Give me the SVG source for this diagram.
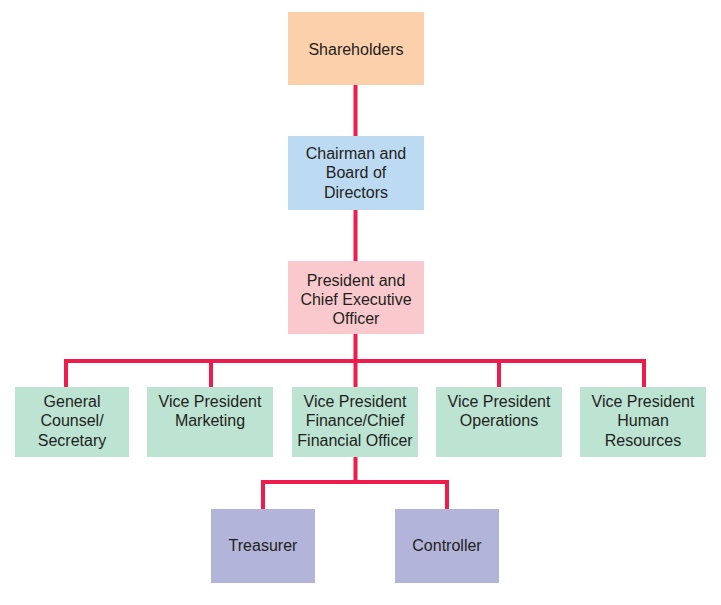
<svg xmlns="http://www.w3.org/2000/svg" width="721" height="605" viewBox="0 0 721 605">
<style>
text{font-family:"Liberation Sans",Arial,sans-serif;font-size:16px;fill:#231F20;text-anchor:middle}
.c{fill:none;stroke:#EE1B4C;stroke-width:4;stroke-linejoin:miter}
.g{fill:#BDE3D3}
.p{fill:#B2B4DA}
</style>
<rect width="721" height="605" fill="#FFFFFF"/>
<g id="connectors">
<path class="c" d="M355.5 85V136M355.5 210V261M355.5 334V387"/>
<path class="c" d="M66 387V361H644V387M211 361V387M499 361V387"/>
<path class="c" d="M355.5 457V482M263 509V482H447V509"/>
</g>
<g id="shareholders">
<rect x="288" y="12" width="136" height="73" fill="#FDD0AC"/>
<text x="356" y="54.5">Shareholders</text>
</g>
<g id="chairman">
<rect x="288" y="136" width="136" height="74" fill="#BCDAF2"/>
<text x="356" y="158.5">Chairman and</text>
<text x="356" y="178">Board of</text>
<text x="356" y="197.5">Directors</text>
</g>
<g id="president">
<rect x="288" y="261" width="136" height="73" fill="#F9C9CD"/>
<text x="356" y="285.5">President and</text>
<text x="356" y="304.8">Chief Executive</text>
<text x="356" y="324">Officer</text>
</g>
<g id="general-counsel">
<rect class="g" x="15" y="387" width="114" height="70"/>
<text x="72" y="406.5">General</text>
<text x="72" y="426.3">Counsel/</text>
<text x="72" y="446">Secretary</text>
</g>
<g id="vp-marketing">
<rect class="g" x="147" y="387" width="126" height="70"/>
<text x="210" y="406.5">Vice President</text>
<text x="210" y="426.3">Marketing</text>
</g>
<g id="vp-finance">
<rect class="g" x="292" y="387" width="126" height="70"/>
<text x="355" y="406.5">Vice President</text>
<text x="355" y="426.3">Finance/Chief</text>
<text x="355" y="446">Financial Officer</text>
</g>
<g id="vp-operations">
<rect class="g" x="436" y="387" width="126" height="70"/>
<text x="499" y="406.5">Vice President</text>
<text x="499" y="426.3">Operations</text>
</g>
<g id="vp-hr">
<rect class="g" x="580" y="387" width="126" height="70"/>
<text x="643" y="406.5">Vice President</text>
<text x="643" y="426.3">Human</text>
<text x="643" y="446">Resources</text>
</g>
<g id="treasurer">
<rect class="p" x="211" y="509" width="104" height="74"/>
<text x="263" y="550.5">Treasurer</text>
</g>
<g id="controller">
<rect class="p" x="395" y="509" width="104" height="74"/>
<text x="447" y="550.5">Controller</text>
</g>
</svg>
